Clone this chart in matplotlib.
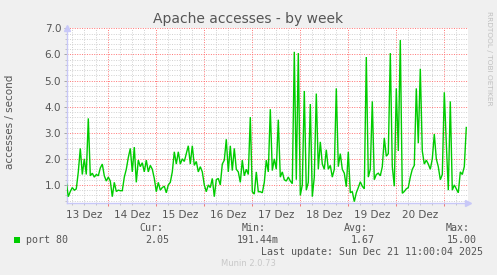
import matplotlib
matplotlib.use("Agg")
import matplotlib.pyplot as plt
from matplotlib.patches import Rectangle
import numpy as np

# ---- data (hourly samples, hours since Dec 13 00:00) ----
start_hour = 3
values = [
    # Dec 13 (03h..23h)
    1.1, 0.55, 0.75, 0.9, 0.8, 0.85, 1.5, 2.4, 1.4, 2.0, 1.4, 3.55, 1.35, 1.45,
    1.3, 1.4, 1.35, 1.65, 1.8, 1.35, 1.15,
    # Dec 14
    1.3, 1.15, 0.55, 1.1, 0.75, 0.8, 0.78, 0.78, 1.3, 1.6, 2.05, 2.4, 1.5, 2.45,
    1.1, 1.95, 1.7, 1.85, 1.5, 1.95, 1.5, 1.75, 1.6, 1.25,
    # Dec 15
    0.74, 1.1, 0.8, 0.9, 0.95, 0.7, 1.0, 1.1, 1.5, 2.27, 1.8, 2.27, 1.8, 2.0,
    1.9, 2.2, 2.5, 1.8, 2.5, 1.75, 1.9, 1.5, 1.7, 1.5,
    # Dec 16
    1.0, 0.74, 1.0, 0.9, 1.25, 0.55, 1.2, 1.25, 1.0, 1.8, 1.95, 2.75, 1.5, 2.5,
    1.55, 2.4, 1.6, 1.5, 1.1, 1.95, 1.35, 1.6, 1.4, 3.6,
    # Dec 17
    0.74, 0.65, 1.5, 0.74, 0.74, 0.7, 1.1, 1.95, 1.5, 3.9, 1.55, 2.0, 1.6, 3.5,
    1.3, 1.5, 1.2, 1.15, 1.3, 1.15, 1.05, 6.1, 1.2, 6.05,
    # Dec 18
    0.6, 1.0, 4.6, 0.8, 1.1, 4.1, 0.55, 1.3, 4.5, 1.6, 2.65, 1.8, 1.6, 2.35,
    1.6, 1.75, 1.3, 1.6, 4.7, 1.7, 2.2, 1.6, 1.45, 0.93,
    # Dec 19
    2.27, 0.7, 0.75, 0.36, 0.7, 0.9, 1.12, 0.95, 0.85, 5.9, 1.3, 1.6, 4.2, 1.2,
    1.4, 1.45, 1.35, 1.7, 2.8, 2.1, 2.2, 6.05, 1.7, 0.95,
    # Dec 20
    4.7, 2.3, 6.55, 0.68, 0.75, 0.85, 0.9, 1.3, 1.6, 1.75, 4.7, 2.6, 5.45, 2.3,
    1.8, 1.95, 1.8, 1.6, 2.0, 2.95, 2.0, 1.7, 1.2, 1.4,
    # Dec 21
    4.55, 2.6, 0.8, 4.2, 0.8, 1.0, 0.85, 0.7, 1.5, 1.4, 1.7, 3.2,
]
hours = np.arange(start_hour, start_hour + len(values))

day_labels = ["13 Dez", "14 Dez", "15 Dez", "16 Dez", "17 Dez", "18 Dez", "19 Dez", "20 Dez"]
y_ticks = [1.0, 2.0, 3.0, 4.0, 5.0, 6.0, 7.0]

title = "Apache accesses - by week"
ylabel = "accesses / second"
series_name = "port 80"
stat_names = ["Cur:", "Min:", "Avg:", "Max:"]
stat_values = ["2.05", "191.44m", "1.67", "15.00"]
last_update = "Last update: Sun Dec 21 11:00:04 2025"
footer = "Munin 2.0.73"
side_text = "RRDTOOL / TOBI OETIKER"

# ---- figure ----
W, H = 497, 275
fig = plt.figure(figsize=(W / 100, H / 100), dpi=100)
fig.patch.set_facecolor("#F0F0F0")

px = lambda x: x / W
py = lambda y: 1 - y / H

left, right, top, bottom = 66.7, 468.0, 28.3, 202.7
ax = fig.add_axes([px(left), py(bottom), px(right - left), (bottom - top) / H])
ax.set_facecolor("white")

ax.plot(hours, values, color="#00CC00", lw=1.0, solid_joinstyle="miter", zorder=3)

ax.set_xlim(3.2, 203.85)
ax.set_ylim(0.32, 7.0)

axis_col = "#C8C8F8"
for s in ["top", "right"]:
    ax.spines[s].set_visible(False)
ax.spines["left"].set_color(axis_col)
ax.spines["bottom"].set_color(axis_col)
ax.spines["left"].set_linewidth(1.0)
ax.spines["bottom"].set_linewidth(1.0)

# grid
ax.set_xticks(np.arange(24, 204, 24))
ax.set_xticks(np.arange(6, 204, 6), minor=True)
ax.set_yticks(y_ticks)
ax.set_yticks(np.arange(0.4, 7.01, 0.2), minor=True)
ax.set_yticklabels([f"{v:.1f}" for v in y_ticks])
ax.set_xticklabels([])

ax.grid(which="minor", color="#D0D0D0", linestyle=(0, (1, 1.5)), lw=0.7, zorder=0)
ax.grid(which="major", color=(1, 0.45, 0.45, 0.6), linestyle=(0, (1, 1.5)), lw=0.7, zorder=1)

ax.tick_params(axis="y", which="major", length=2, width=0.6, color="#999999",
               labelsize=7.5, labelcolor="#555555", pad=2)
ax.tick_params(axis="y", which="minor", length=1.5, width=0.6, color="#bbbbbb")
ax.tick_params(axis="x", which="major", length=2.5, width=0.7, color="#ee7777")
ax.tick_params(axis="x", which="minor", length=1.5, width=0.6, color="#bbbbbb")

for i, lab in enumerate(day_labels):
    ax.text(12 + 24 * i, -0.04, lab, transform=ax.get_xaxis_transform(),
            ha="center", va="top", fontsize=7.5, color="#555555")

# axis arrows
ax.plot([0], [1.0], marker="^", ms=4, color=axis_col, transform=ax.transAxes,
        clip_on=False, zorder=5)
ax.plot([1.0], [0], marker=">", ms=4, color=axis_col, transform=ax.transAxes,
        clip_on=False, zorder=5)

# texts
fig.text(px(248), py(19), title, ha="center", va="center", fontsize=10, color="#555555")
fig.text(px(10), py(122), ylabel, ha="center", va="center", rotation=90,
         fontsize=7.5, color="#555555")
fig.text(px(489), py(58), side_text, ha="center", va="center", rotation=270,
         fontsize=5.3, color="#C0C0C0")

mono = dict(family="DejaVu Sans Mono", fontsize=7.2, color="#555555")
fig.patches.append(Rectangle((px(14), py(243)), px(6), 6 / H, transform=fig.transFigure,
                             facecolor="#00CC00", edgecolor="none"))
fig.text(px(26), py(240), series_name, ha="left", va="center", **mono)
name_right = [163, 266, 368, 470]
val_right = [169, 279, 375, 477]
for nm, vr, nr, vv in zip(stat_names, val_right, name_right, stat_values):
    fig.text(px(nr), py(228), nm, ha="right", va="center", **mono)
    fig.text(px(vr), py(240), vv, ha="right", va="center", **mono)
fig.text(px(483), py(252), last_update, ha="right", va="center", **mono)
fig.text(px(248), py(264), footer, ha="center", va="center", fontsize=6,
         color="#C8C8C8")

fig.savefig("out.png", dpi=100, facecolor=fig.get_facecolor())
